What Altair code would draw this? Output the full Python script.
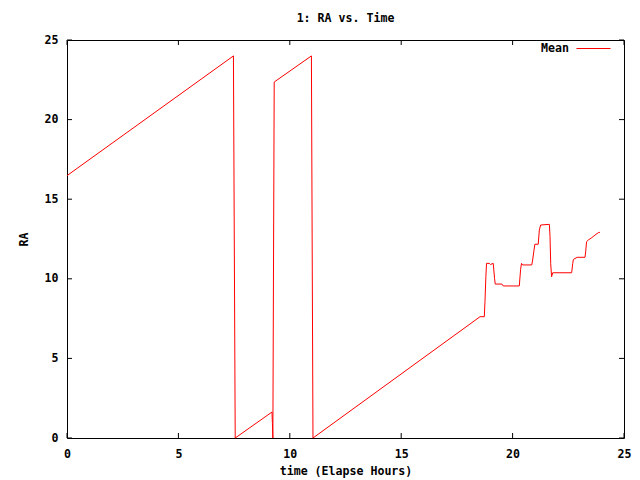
import altair as alt
import pandas as pd

# Time (elapsed hours) and mean RA values
t = [0.00, 7.47, 7.55, 9.20, 9.22, 9.24, 9.30, 10.97, 11.04, 18.54, 18.73, 18.76,
     18.80, 18.83, 18.95, 19.01, 19.13, 19.19, 19.22, 19.52, 19.58, 20.30, 20.36,
     20.40, 20.45, 20.86, 20.90, 20.96, 21.00, 21.15, 21.20, 21.26, 21.65, 21.68,
     21.71, 21.75, 21.80, 22.65, 22.70, 22.73, 22.90, 23.25, 23.28, 23.32, 23.40,
     23.55, 23.70, 23.85, 23.92]
ra = [16.48, 24.0, 0.0, 1.63, 0.9, 0.0, 22.36, 24.0, 0.0, 7.62, 7.62, 8.56,
      10.13, 10.97, 10.97, 10.9, 10.97, 10.03, 9.67, 9.67, 9.55, 9.55, 10.6,
      10.97, 10.87, 10.87, 11.18, 11.8, 12.17, 12.17, 13.07, 13.38, 13.42, 12.65,
      10.97, 10.13, 10.38, 10.38, 10.97, 11.22, 11.35, 11.35, 11.7, 12.33, 12.44,
      12.58, 12.75, 12.9, 12.92]
series_name = "Mean"

x_ticks = [0, 5, 10, 15, 20, 25]
y_ticks = [0, 5, 10, 15, 20, 25]

W, H = 557, 398
TICK = 5
FONT = "DejaVu Sans Mono"
FS = 11.6

df = pd.DataFrame({"t": t, "ra": ra, "series": series_name})
xt = pd.DataFrame({"t": x_ticks})
yt = pd.DataFrame({"ra": y_ticks})

xscale = alt.Scale(domain=[0, 25], nice=False, zero=False)
yscale = alt.Scale(domain=[0, 25], nice=False, zero=False)

xaxis = alt.Axis(values=x_ticks, ticks=False, domain=False, grid=False,
                 labelPadding=10, labelFont=FONT, labelFontSize=FS, labelFontWeight="bold",
                 labelColor="black", labelFlush=False,
                 title="time (Elapse Hours)", titleFont=FONT, titleFontSize=FS,
                 titleFontWeight="bold", titleColor="black", titleY=33,
                 titleBaseline="middle")
yaxis = alt.Axis(values=y_ticks, ticks=False, domain=False, grid=False,
                 labelPadding=9, labelFont=FONT, labelFontSize=FS, labelFontWeight="bold",
                 labelColor="black", labelFlush=False,
                 title="RA", titleFont=FONT, titleFontSize=FS, titleFontWeight="bold",
                 titleColor="black", titleAngle=270, titleX=-43, titleY=199,
                 titleBaseline="middle")

X = alt.X("t:Q", scale=xscale, axis=xaxis, title="time (Elapse Hours)")
Y = alt.Y("ra:Q", scale=yscale, axis=yaxis, title="RA")

line = alt.Chart(df).mark_line(strokeWidth=1, interpolate="linear").encode(
    x=X, y=Y,
    color=alt.Color("series:N", scale=alt.Scale(range=["#ff0000"]),
                    legend=alt.Legend(title=None, orient="none", legendX=509, legendY=-9,
                                      symbolType="stroke", symbolSize=1156,
                                      symbolStrokeWidth=1, symbolOffset=0,
                                      labelAlign="right", labelOffset={"expr": "-42"},
                                      labelFont=FONT, labelFontSize=FS,
                                      labelFontWeight="bold", labelColor="black",
                                      padding=0)),
)

bottom_ticks = alt.Chart(xt).mark_rule(color="black", strokeWidth=1).encode(
    x=X, y=alt.value(H - TICK), y2=alt.value(H))
top_ticks = alt.Chart(xt).mark_rule(color="black", strokeWidth=1).encode(
    x=X, y=alt.value(0), y2=alt.value(TICK))
left_ticks = alt.Chart(yt).mark_rule(color="black", strokeWidth=1).encode(
    y=Y, x=alt.value(0), x2=alt.value(TICK))
right_ticks = alt.Chart(yt).mark_rule(color="black", strokeWidth=1).encode(
    y=Y, x=alt.value(W - TICK), x2=alt.value(W))

chart = alt.layer(bottom_ticks, top_ticks, left_ticks, right_ticks, line).properties(
    width=W, height=H,
    title=alt.TitleParams("1: RA vs. Time", font=FONT, fontSize=FS, fontWeight="bold",
                          color="black", anchor="middle", frame="group",
                          baseline="alphabetic", offset=0, dy=3),
    autosize=alt.AutoSizeParams(type="none"),
    padding={"left": 59, "top": 32, "right": 8, "bottom": 42},
).configure(background="white").configure_view(stroke="black", strokeWidth=1)

chart.save("out.html", embed_options={"renderer": "svg", "actions": False})
